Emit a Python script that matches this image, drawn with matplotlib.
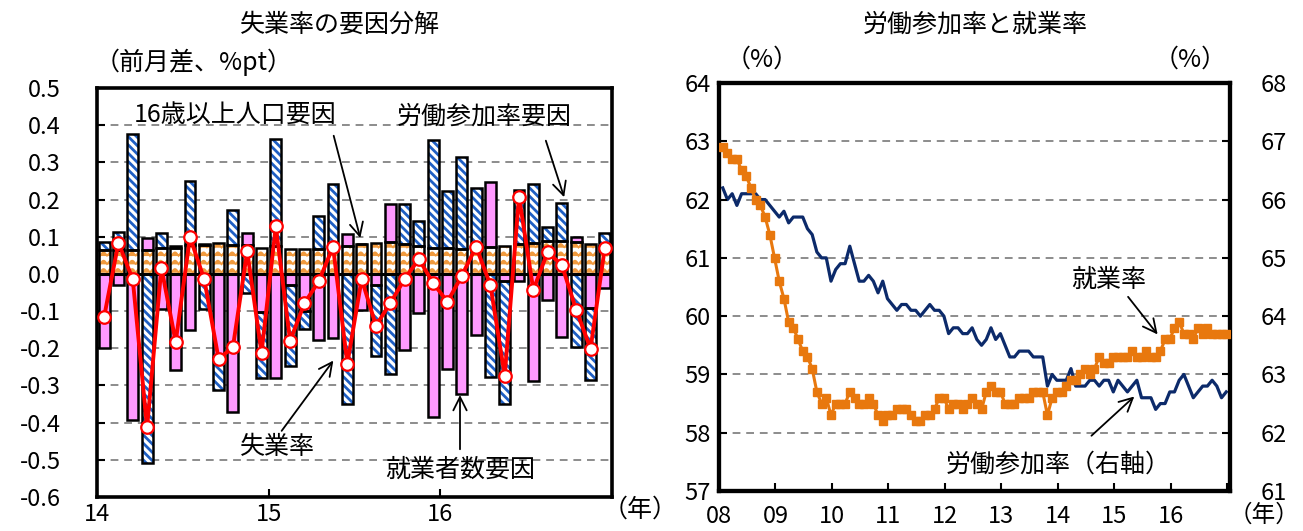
import numpy as np
import matplotlib
matplotlib.use('Agg')
import matplotlib.pyplot as plt
import matplotlib.hatch as mhatch
from matplotlib.path import Path

# ---------------- data: left chart (monthly change, Jan 2014 - Dec 2016) ----------------
left_year_labels = ['14', '15', '16']
pop_factor = [0.063, 0.063, 0.064, 0.064, 0.070, 0.071, 0.077, 0.078, 0.082, 0.078, 0.078, 0.069,
              0.075, 0.068, 0.068, 0.068, 0.074, 0.076, 0.080, 0.082, 0.085, 0.080, 0.076, 0.071,
              0.071, 0.067, 0.076, 0.073, 0.076, 0.080, 0.082, 0.088, 0.088, 0.085, 0.080, 0.076]
part_factor = [0.022, 0.051, 0.313, -0.508, 0.039, 0.003, 0.173, -0.094, -0.086, 0.095, -0.052, -0.179,
               0.289, -0.218, -0.049, 0.089, 0.169, -0.350, 0.000, -0.190, -0.268, 0.109, 0.065, 0.288,
               0.152, 0.248, 0.156, -0.277, -0.330, 0.146, 0.159, 0.039, 0.103, -0.197, -0.193, 0.033]
emp_factor = [-0.200, -0.030, -0.393, 0.032, -0.094, -0.258, -0.152, 0.002, -0.227, -0.372, 0.033, -0.102,
              -0.279, -0.029, -0.100, -0.178, -0.172, 0.031, -0.097, -0.030, 0.103, -0.204, -0.104, -0.386,
              -0.257, -0.322, -0.163, 0.173, -0.020, -0.020, -0.288, -0.070, -0.170, 0.015, -0.091, -0.039]
unemp_change = [-0.115, 0.084, -0.015, -0.413, 0.017, -0.183, 0.099, -0.015, -0.229, -0.197, 0.061, -0.212,
                0.128, -0.180, -0.079, -0.020, 0.073, -0.241, -0.014, -0.139, -0.079, -0.014, 0.040, -0.025,
                -0.075, -0.005, 0.073, -0.030, -0.274, 0.208, -0.043, 0.059, 0.023, -0.097, -0.201, 0.071]
left_yticks = [0.5, 0.4, 0.3, 0.2, 0.1, 0.0, -0.1, -0.2, -0.3, -0.4, -0.5, -0.6]

# ---------------- data: right chart (monthly, Jan 2008 - Dec 2016) ----------------
right_year_labels = ['08', '09', '10', '11', '12', '13', '14', '15', '16']
employment_rate = [62.9, 62.8, 62.7, 62.7, 62.5, 62.4, 62.2, 62.0, 61.9, 61.7, 61.4, 61.0,
                   60.6, 60.3, 59.9, 59.8, 59.6, 59.4, 59.3, 59.1, 58.7, 58.5, 58.6, 58.3,
                   58.5, 58.5, 58.5, 58.7, 58.6, 58.5, 58.5, 58.6, 58.5, 58.3, 58.2, 58.3,
                   58.3, 58.4, 58.4, 58.4, 58.3, 58.2, 58.2, 58.3, 58.3, 58.4, 58.6, 58.6,
                   58.4, 58.5, 58.5, 58.4, 58.5, 58.6, 58.5, 58.4, 58.7, 58.8, 58.7, 58.7,
                   58.5, 58.5, 58.5, 58.6, 58.6, 58.6, 58.7, 58.7, 58.7, 58.3, 58.6, 58.7,
                   58.7, 58.8, 58.9, 58.9, 59.0, 59.1, 59.0, 59.1, 59.3, 59.2, 59.2, 59.3,
                   59.3, 59.3, 59.3, 59.4, 59.3, 59.3, 59.4, 59.3, 59.3, 59.4, 59.6, 59.6,
                   59.8, 59.9, 59.7, 59.7, 59.6, 59.8, 59.7, 59.8, 59.7, 59.7, 59.7, 59.7]
participation_rate = [66.2, 66.0, 66.1, 65.9, 66.1, 66.1, 66.1, 66.1, 66.0, 66.0, 65.9, 65.8,
                      65.7, 65.8, 65.6, 65.7, 65.7, 65.7, 65.5, 65.4, 65.1, 65.0, 65.0, 64.6,
                      64.8, 64.9, 64.9, 65.2, 64.9, 64.6, 64.6, 64.7, 64.6, 64.4, 64.6, 64.3,
                      64.2, 64.1, 64.2, 64.2, 64.1, 64.1, 64.0, 64.1, 64.2, 64.1, 64.1, 64.0,
                      63.7, 63.8, 63.8, 63.7, 63.7, 63.8, 63.6, 63.5, 63.6, 63.8, 63.6, 63.7,
                      63.5, 63.3, 63.3, 63.4, 63.4, 63.4, 63.3, 63.3, 63.3, 62.8, 63.0, 62.9,
                      62.9, 62.9, 63.1, 62.8, 62.8, 62.8, 62.9, 62.9, 62.8, 62.9, 62.9, 62.7,
                      62.9, 62.8, 62.7, 62.8, 62.9, 62.6, 62.6, 62.6, 62.4, 62.5, 62.5, 62.7,
                      62.7, 62.9, 63.0, 62.8, 62.6, 62.7, 62.8, 62.8, 62.9, 62.8, 62.6, 62.7]


# ---------------- wavy hatch for the population factor ----------------
class WaveHatch(mhatch.HatchPatternBase):
    def __init__(self, hatch, density):
        self.num_lines = int((hatch.count('-') + hatch.count('+')) * density)
        self.npts = 201
        self.num_vertices = self.num_lines * self.npts

    def set_vertices_and_codes(self, vertices, codes):
        steps, stepsize = np.linspace(0.0, 1.0, self.num_lines, False, retstep=True)
        steps += stepsize / 2.
        xs = np.linspace(0.0, 1.0, self.npts)
        for k, s in enumerate(steps):
            sl = slice(k * self.npts, (k + 1) * self.npts)
            vertices[sl, 0] = xs
            vertices[sl, 1] = s + 0.45 * stepsize * (np.abs(np.sin(np.pi * 14 * xs)) - 0.5)
            codes[sl] = Path.LINETO
            codes[k * self.npts] = Path.MOVETO


mhatch._hatch_types[0] = WaveHatch

plt.rcParams['font.family'] = ['Noto Sans CJK JP', 'DejaVu Sans']
plt.rcParams['hatch.linewidth'] = 1.8

W, H = 1303, 531
fig = plt.figure(figsize=(W / 100, H / 100), dpi=100)


def fx(px):
    return px / W


def fy(py):
    return 1 - py / H


FS = 18
TFS = 17
PINK = '#FF99FF'
BLUE_H = '#1F5FC4'
ORANGE_H = '#F09A3E'

# ================= left chart =================
axL = fig.add_axes([fx(97), fy(497), (612 - 97) / W, (497 - 88) / H])
n = len(pop_factor)
x = np.arange(n)
bw = 0.76
pos_base = np.zeros(n)
neg_base = np.zeros(n)
series = [(pop_factor, 'white', ORANGE_H, '--', 1.2),
          (emp_factor, PINK, PINK, None, 1.0),
          (part_factor, 'white', BLUE_H, '\\\\\\\\', 2.0)]
for vals, face, hcol, hatch, hlw in series:
    v = np.array(vals)
    bottoms = np.where(v >= 0, pos_base, neg_base)
    with plt.rc_context({'hatch.linewidth': hlw}):
        if hatch:
            axL.bar(x, v, bw, bottom=bottoms, color=face, edgecolor=hcol, hatch=hatch,
                    linewidth=0, zorder=3)
        else:
            axL.bar(x, v, bw, bottom=bottoms, color=face, linewidth=0, zorder=3)
    axL.bar(x, v, bw, bottom=bottoms, fill=False, edgecolor='black', linewidth=1.8, zorder=4)
    pos_base = pos_base + np.where(v >= 0, v, 0)
    neg_base = neg_base + np.where(v < 0, v, 0)

axL.axhline(0, color='black', lw=2.2, zorder=5)
axL.plot(x, unemp_change, color='#FF0000', lw=2.8, marker='o', ms=9,
         mfc='white', mec='#FF0000', mew=1.6, zorder=6)

axL.set_xlim(-0.5, n - 0.5)
axL.set_ylim(-0.6, 0.5)
axL.set_yticks(left_yticks)
axL.set_yticklabels([f'{t:.1f}' for t in left_yticks])
for t in left_yticks:
    if -0.6 < t < 0.5 and t != 0.0:
        axL.axhline(t, color='#8C8C8C', lw=1.4, ls=(0, (4, 3)), zorder=1)
axL.set_xticks([-0.5, 11.5, 23.5, 35.5])
axL.set_xticklabels(left_year_labels + [''])
axL.tick_params(axis='y', direction='in', length=6, width=1.5, pad=26, labelsize=TFS)
axL.tick_params(axis='x', direction='in', length=6, width=1.5, pad=4, labelsize=TFS)
for sp in axL.spines.values():
    sp.set_linewidth(2.6)


def lx(px):
    return (px - 97) / ((612 - 97) / n) - 0.5


def ly(py):
    return (273.3 - py) / 373.0


arrow_kw = dict(arrowstyle='->', color='black', lw=1.3, mutation_scale=24)
axL.text(lx(235), ly(115), '16歳以上人口要因', ha='center', va='center', fontsize=FS, zorder=7)
axL.annotate('', xy=(lx(361), ly(240)), xytext=(lx(333), ly(132)), arrowprops=arrow_kw, zorder=7)
axL.text(lx(484), ly(115), '労働参加率要因', ha='center', va='center', fontsize=FS, zorder=7)
axL.annotate('', xy=(lx(565), ly(199)), xytext=(lx(545), ly(137)), arrowprops=arrow_kw, zorder=7)
axL.text(lx(277), ly(447), '失業率', ha='center', va='center', fontsize=FS, zorder=7)
axL.annotate('', xy=(lx(335), ly(358)), xytext=(lx(280), ly(433)), arrowprops=arrow_kw, zorder=7)
axL.text(lx(460), ly(470), '就業者数要因', ha='center', va='center', fontsize=FS, zorder=7)
axL.annotate('', xy=(lx(460), ly(392)), xytext=(lx(460), ly(452)), arrowprops=arrow_kw, zorder=7)

fig.text(fx(340), fy(25), '失業率の要因分解', ha='center', va='center', fontsize=FS)
fig.text(fx(95), fy(62), '（前月差、%pt）', ha='left', va='center', fontsize=FS)
fig.text(fx(640), fy(510), '（年）', ha='center', va='center', fontsize=FS)

# ================= right chart =================
axR = fig.add_axes([fx(719), fy(491), (1230 - 719) / W, (491 - 83) / H])
axR2 = axR.twinx()
m = np.arange(len(employment_rate))

axR2.plot(m, participation_rate, color='#0C2A6A', lw=2.3, zorder=3)
axR.plot(m, employment_rate, color='#E8780E', lw=2.2, marker='s', ms=5.8,
         mec='#E8780E', zorder=3)

axR.set_zorder(axR2.get_zorder() + 1)
axR.patch.set_visible(False)

axR.set_ylim(57, 64)
axR2.set_ylim(61, 68)
axR.set_yticks(range(57, 65))
axR2.set_yticks(range(61, 69))
for g in range(62, 68):
    axR2.axhline(g, color='#8C8C8C', lw=1.4, ls=(0, (4, 3)), zorder=1)

xt = [12 * k - 0.8 for k in range(10)]
axR.set_xlim(-0.8, 107.8)
axR.set_xticks(xt)
axR.set_xticklabels(right_year_labels + [''])
axR.tick_params(axis='x', direction='in', length=6, width=1.5, pad=10, labelsize=TFS)
axR.tick_params(axis='y', direction='in', length=6, width=1.5, pad=6, labelsize=TFS)
axR2.tick_params(axis='y', direction='in', length=6, width=1.5, pad=22, labelsize=TFS)
for a in (axR, axR2):
    for sp in a.spines.values():
        sp.set_linewidth(3.0)


def rx(px):
    return (px - 721) / 4.71


def ry(py):
    return 64 - (py - 83.3) / 58.3


axR.text(rx(1107), ry(280), '就業率', ha='center', va='center', fontsize=FS, zorder=7)
axR.annotate('', xy=(rx(1158), ry(337)), xytext=(rx(1125), ry(295)), arrowprops=arrow_kw, zorder=7)
axR.text(rx(1057), ry(465), '労働参加率（右軸）', ha='center', va='center', fontsize=FS, zorder=7)
axR.annotate('', xy=(rx(1135), ry(395)), xytext=(rx(1088), ry(438)), arrowprops=arrow_kw, zorder=7)

fig.text(fx(975), fy(25), '労働参加率と就業率', ha='center', va='center', fontsize=FS)
fig.text(fx(762), fy(60), '（%）', ha='center', va='center', fontsize=FS)
fig.text(fx(1190), fy(60), '（%）', ha='center', va='center', fontsize=FS)
fig.text(fx(1264), fy(515), '（年）', ha='center', va='center', fontsize=17)

fig.savefig('out.png', dpi=100)
